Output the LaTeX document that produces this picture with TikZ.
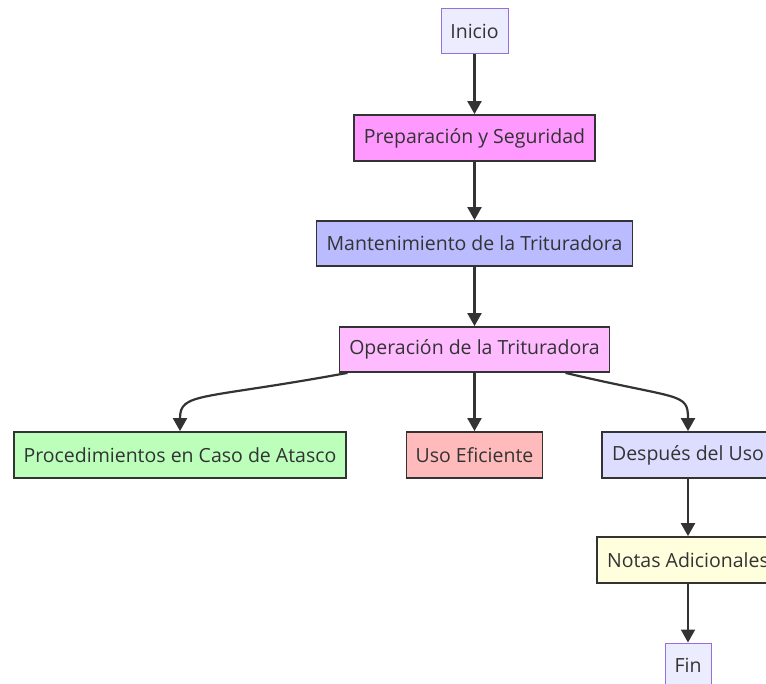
\documentclass[tikz,border=0pt]{standalone}
\usepackage{fontspec}
\setmainfont{Open Sans}
\usetikzlibrary{arrows.meta}
\definecolor{txt}{HTML}{333333}
\definecolor{edge}{HTML}{333333}
\definecolor{cInicio}{HTML}{ECECFF}
\definecolor{cInicioB}{HTML}{9370DB}
\definecolor{cPrep}{HTML}{FF99FF}
\definecolor{cMant}{HTML}{BBBBFF}
\definecolor{cOper}{HTML}{FFBBFF}
\definecolor{cProc}{HTML}{BBFFBB}
\definecolor{cUso}{HTML}{FFBBBB}
\definecolor{cDesp}{HTML}{DDDDFF}
\definecolor{cNotas}{HTML}{FFFFDD}
\tikzset{
  box/.style={draw=edge, line width=1.8pt, text=txt, inner sep=0pt, anchor=center,
    font=\fontsize{19.5}{22}\selectfont},
  endbox/.style={box, draw=cInicioB, line width=1pt, fill=cInicio},
  link/.style={draw=edge, line width=2.2pt, -{Triangle[length=13pt,width=14pt]}},
}
\begin{document}
\begin{tikzpicture}[x=1pt,y=-1pt]
\useasboundingbox (0,0) rectangle (766,684);
\clip (0,0) rectangle (766,684);
\node[endbox, minimum width=67pt, minimum height=45pt] (inicio) at (474.5,31.5) {Inicio};
\node[box, fill=cPrep, minimum width=241pt, minimum height=46pt] (prep) at (474.5,138) {Preparación y Seguridad};
\node[box, fill=cMant, minimum width=316pt, minimum height=45pt] (mant) at (474.5,243.5) {Mantenimiento de la Trituradora};
\node[box, fill=cOper, minimum width=270pt, minimum height=45pt] (oper) at (474.5,349.5) {Operación de la Trituradora};
\node[box, fill=cProc, minimum width=332pt, minimum height=46pt] (proc) at (180,455) {Procedimientos en Caso de Atasco};
\node[box, fill=cUso, minimum width=136pt, minimum height=46pt] (uso) at (474.5,455) {Uso Eficiente};
\node[box, fill=cDesp, minimum width=172pt, minimum height=46pt] (desp) at (688,455) {Después del Uso};
\node[box, fill=cNotas, minimum width=182pt, minimum height=46pt] (notas) at (688,560) {Notas Adicionales};
\node[endbox, minimum width=46pt, minimum height=45pt] (fin) at (688,665.5) {Fin};

\draw[link] (inicio) -- (prep);
\draw[link] (prep) -- (mant);
\draw[link] (mant) -- (oper);
\draw[link] (oper.south) -- (uso.north);
\draw[link] ([xshift=-127pt]oper.south) .. controls (200,400) and (180,392) .. (proc.north);
\draw[link] ([xshift=91pt]oper.south) .. controls (680,400) and (688,392) .. (desp.north);
\draw[link] (desp) -- (notas);
\draw[link] (notas) -- (fin);
\end{tikzpicture}
\end{document}
